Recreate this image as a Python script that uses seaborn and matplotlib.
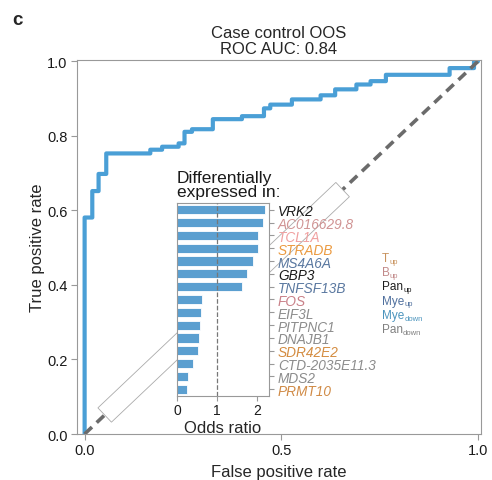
import numpy as np
import matplotlib
matplotlib.use("Agg")
import matplotlib.pyplot as plt
from matplotlib.patches import Polygon
import seaborn as sns

# ROC curve corner points
fpr = [0.0, 0.0, 0.0195, 0.0355, 0.055, 0.167, 0.197, 0.239, 0.254, 0.273, 0.326,
       0.400, 0.456, 0.472, 0.527, 0.600, 0.637, 0.691, 0.727, 0.766, 0.928, 0.990, 1.0]
tpr = [0.0, 0.581, 0.652, 0.698, 0.753, 0.763, 0.771, 0.780, 0.811, 0.818, 0.845,
       0.853, 0.874, 0.884, 0.898, 0.909, 0.925, 0.938, 0.947, 0.964, 0.982, 1.0, 1.0]

# inset: odds ratios per gene
genes = ["VRK2", "AC016629.8", "TCL1A", "STRADB", "MS4A6A", "GBP3", "TNFSF13B", "FOS",
         "EIF3L", "PITPNC1", "DNAJB1", "SDR42E2", "CTD-2035E11.3", "MDS2", "PRMT10"]
odds = [2.19, 2.14, 2.02, 2.02, 1.91, 1.76, 1.63, 0.62, 0.60, 0.57, 0.54, 0.51, 0.39, 0.26, 0.24]
gene_colors = ["#1a1a1a", "#d09494", "#f0a0a0", "#eb9a40", "#5a78a0", "#1a1a1a", "#5a78a0",
               "#c98088", "#8c8c8c", "#8c8c8c", "#8c8c8c", "#d48c40", "#8c8c8c", "#8c8c8c", "#d08a45"]

legend_names = ["T", "B", "Pan", "Mye", "Mye", "Pan"]
legend_subs = ["up", "up", "up", "up", "down", "down"]
legend_colors = ["#c8935e", "#c28a8a", "#1f1f1f", "#50709e", "#4b94bd", "#808080"]

sns.set_style("ticks")
plt.rcParams["font.family"] = ["Liberation Sans", "DejaVu Sans"]
plt.rcParams["axes.edgecolor"] = "#999999"
plt.rcParams["xtick.color"] = "#999999"
plt.rcParams["ytick.color"] = "#999999"
plt.rcParams["xtick.labelcolor"] = "#1a1a1a"
plt.rcParams["ytick.labelcolor"] = "#1a1a1a"

fig = plt.figure(figsize=(4.92, 4.81), dpi=100)
ax = fig.add_axes([0.156, 0.0956, 0.821, 0.777])

sns.lineplot(x=fpr, y=tpr, sort=False, estimator=None, drawstyle="steps-post",
             color="#4a9fd6", lw=3.0, snap=False, ax=ax, zorder=2)
ax.plot([0, 1], [0, 1], color="#6b6b6b", lw=2.6, dashes=(2.8, 1.8), zorder=2.5)

ax.set_xlim(-0.02, 1.007)
ax.set_ylim(0, 1.003)
ax.set_xticks([0, 0.5, 1.0])
ax.set_xticklabels(["0.0", "0.5", "1.0"])
ax.set_yticks(np.arange(0, 1.01, 0.2))
ax.set_yticklabels(["%.1f" % v for v in np.arange(0, 1.01, 0.2)])
ax.tick_params(labelsize=10.5, length=4, width=0.8, pad=2.5)
for s in ax.spines.values():
    s.set_linewidth(0.8)
ax.set_xlabel("False positive rate", fontsize=12, labelpad=5)
ax.set_ylabel("True positive rate", fontsize=12, labelpad=1.5)
ax.set_title("Case control OOS\nROC AUC: 0.84", fontsize=12, pad=5, linespacing=1.12)

# white strip along the diagonal, behind the inset
t0, t1, half = 0.051, 0.656, 9.85
p0 = ax.transData.transform((t0, t0))
p1 = ax.transData.transform((t1, t1))
d = (p1 - p0) / np.hypot(*(p1 - p0))
n = np.array([-d[1], d[0]]) * half
corners = ax.transData.inverted().transform([p0 + n, p1 + n, p1 - n, p0 - n])
ax.add_patch(Polygon(corners, closed=True, facecolor="white", edgecolor="#aaaaaa",
                     lw=0.6, zorder=3))

# legend of groups: name with a small subscript
for i, (nm, sb, c) in enumerate(zip(legend_names, legend_subs, legend_colors)):
    t = fig.text(0.776, 1 - (261.7 + i * 14.3) / 481, nm, color=c, fontsize=8.5,
                 va="baseline", ha="left")
    ax.annotate(sb, xy=(1, 0), xycoords=t, xytext=(0.2, -0.6), textcoords="offset points",
                ha="left", va="bottom", fontsize=5.5, color=c)

# inset bar chart
ax_in = fig.add_axes([0.359, 0.1753, 0.1876, 0.400])
sns.barplot(x=odds, y=genes, orient="h", color="#5b9fd0", saturation=1, width=0.72,
            edgecolor="white", linewidth=0.6, ax=ax_in)
ax_in.axvline(1, color="#777777", ls="--", lw=0.9, zorder=5)
ax_in.set_xlim(-0.02, 2.3)
ax_in.set_ylim(14.5, -0.5)
ax_in.set_xticks([0, 1, 2])
ax_in.yaxis.tick_right()
ax_in.tick_params(axis="y", labelsize=9.8, length=3.5, width=0.8, pad=3)
ax_in.tick_params(axis="x", labelsize=10, length=3.5, width=0.8, pad=2)
for lab, c in zip(ax_in.get_yticklabels(), gene_colors):
    lab.set_color(c)
    lab.set_fontstyle("italic")
for s in ax_in.spines.values():
    s.set_visible(True)
    s.set_linewidth(0.8)
ax_in.set_ylabel("")
ax_in.set_xlabel("Odds ratio", fontsize=12, labelpad=2)
ax_in.text(0.0, 1.022, "Differentially\nexpressed in:", transform=ax_in.transAxes,
           fontsize=12.5, ha="left", va="bottom", linespacing=0.92, color="#1a1a1a")

fig.text(0.025, 1 - 25 / 481, "c", fontsize=13.5, fontweight="bold", va="baseline")

fig.savefig("out.png", dpi=100)
